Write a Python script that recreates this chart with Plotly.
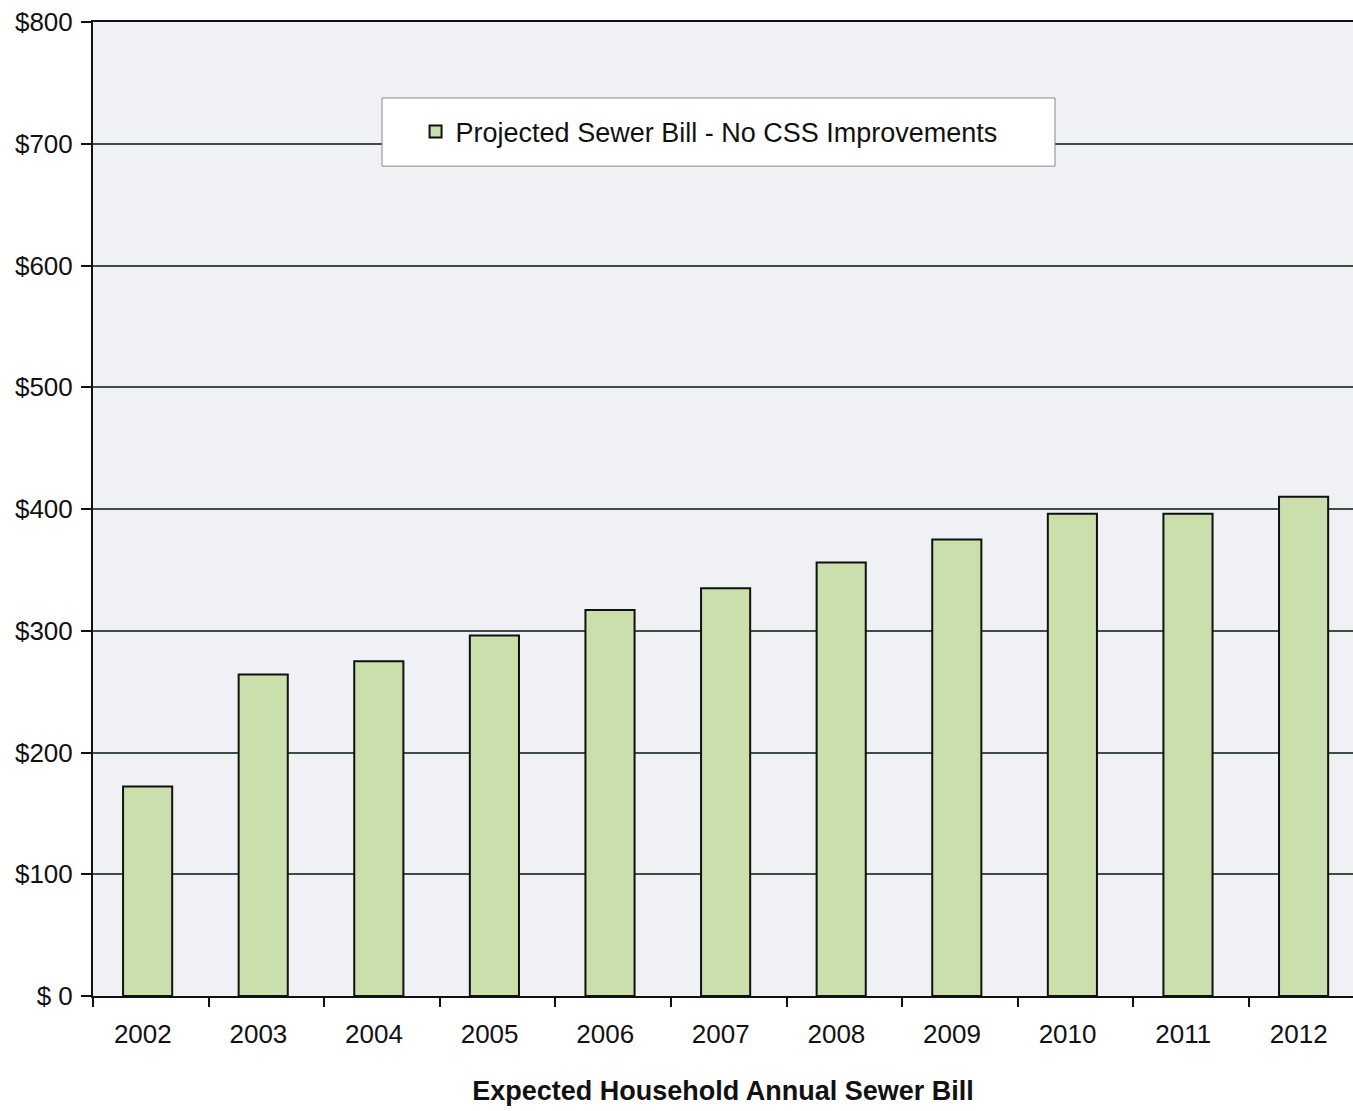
import plotly.graph_objects as go

# Expected household annual sewer bill, by year
years = ["2002", "2003", "2004", "2005", "2006", "2007",
         "2008", "2009", "2010", "2011", "2012"]
bill = [172, 264, 275, 296, 317, 335, 356, 375, 396, 396, 410]

y_ticks = [0, 100, 200, 300, 400, 500, 600, 700, 800]
y_tick_text = ["$ 0", "$100", "$200", "$300", "$400", "$500", "$600", "$700", "$800"]

series_name = "Projected Sewer Bill - No CSS Improvements"
x_title = "Expected Household Annual Sewer Bill"

FONT = "Arial, Liberation Sans, Helvetica, sans-serif"

fig = go.Figure()
fig.add_trace(go.Bar(
    x=years,
    y=bill,
    name=series_name,
    width=0.425,
    offset=-0.24,
    marker=dict(color="#cadfab", line=dict(color="#111111", width=2)),
    showlegend=True,
))

fig.update_layout(
    width=1353,
    height=1111,
    margin=dict(l=93, r=0, t=22, b=115),
    paper_bgcolor="white",
    plot_bgcolor="#eff1f5",
    font=dict(family=FONT, color="#111111"),
    showlegend=True,
    legend=dict(
        x=0.256, xanchor="left",
        y=0.887, yanchor="middle",
        bgcolor="rgba(0,0,0,0)",
        borderwidth=0,
        font=dict(family=FONT, size=27, color="#111111"),
    ),
    shapes=[
        # legend frame
        dict(type="rect", xref="paper", yref="paper",
             x0=0.2294, x1=0.7635, y0=0.852, y1=0.922,
             fillcolor="white", line=dict(color="#8a8a8a", width=1),
             layer="above"),
    ],
)

fig.update_xaxes(
    type="category",
    range=[-0.5, 10.4],
    showline=True, linecolor="#111111", linewidth=2, mirror=True,
    ticks="outside", tickson="boundaries", ticklen=9,
    tickcolor="#111111", tickwidth=2,
    tickfont=dict(family=FONT, size=26, color="#111111"),
    ticklabelstandoff=14,
    ticklabelshift=-8,
    showgrid=False,
    title=dict(text="<b>" + x_title + "</b>",
               font=dict(family=FONT, size=27, color="#111111"),
               standoff=33),
)

fig.update_yaxes(
    range=[0, 800],
    tickvals=y_ticks, ticktext=y_tick_text,
    showline=True, linecolor="#111111", linewidth=2,
    ticks="outside", ticklen=10, tickcolor="#111111", tickwidth=2,
    tickfont=dict(family=FONT, size=26, color="#111111"),
    ticklabelstandoff=3,
    showgrid=True, gridcolor="#3f4d48", gridwidth=1.5,
    zeroline=False,
)

fig.write_html("out.html")
